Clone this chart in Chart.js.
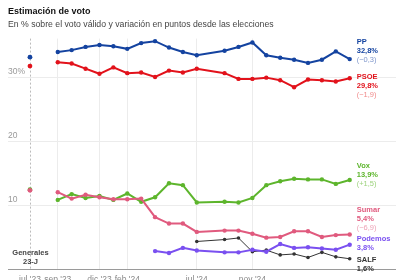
<!DOCTYPE html>
<html><head><meta charset="utf-8">
<script src="https://cdn.jsdelivr.net/npm/chart.js@4.4.1/dist/chart.umd.min.js"></script>
<style>
html,body{margin:0;padding:0;background:#fff;overflow:hidden;width:412px;height:280px;}
#wrap{position:absolute;left:0;top:0;width:412px;height:288px;}
.t{position:absolute;left:8px;font-family:"Liberation Sans",Arial,sans-serif;white-space:nowrap;}
#title{top:6px;font-size:9px;font-weight:bold;color:#111;}
#sub{top:19px;font-size:8.7px;color:#444;}
</style></head><body>
<div id="wrap"><canvas id="c"></canvas></div>
<div class="t" id="title">Estimación de voto</div>
<div class="t" id="sub">En % sobre el voto válido y variación en puntos desde las elecciones</div>
<script>
// month index 0 = jul '23 ... 23 = jun '25
const months = ["jul '23","ago '23","sep '23","oct '23","nov '23","dic '23","ene '24","feb '24","mar '24","abr '24","may '24","jun '24","jul '24","ago '24","sep '24","oct '24","nov '24","dic '24","ene '25","feb '25","mar '25","abr '25","may '25","jun '25"];
const xTickIdx = [0, 2, 5, 7, 12, 16];
const xTickLabels = ["jul '23","sep '23","dic '23","feb '24","jul '24","nov '24"];
const yTicks = [0, 10, 20, 30];
const yTickLabels = ["", "10", "20", "30%"];

const parties = ["PP", "PSOE", "Vox", "Sumar", "Podemos", "SALF"];
const election = [33.1, 31.7, 12.4, 12.3];
const pp      = [null,null,33.9,34.2,34.7,35.0,34.8,34.4,35.3,35.6,34.6,33.9,33.4,null,34.1,34.7,35.4,33.4,33.0,32.7,32.2,32.7,34.0,32.8];
const psoe    = [null,null,32.3,32.1,31.3,30.5,31.5,30.6,30.7,30.0,31.0,30.7,31.3,null,30.6,29.7,29.7,29.9,29.5,28.4,29.6,29.5,29.3,29.8];
const vox     = [null,null,10.8,11.7,11.1,11.4,10.8,11.8,10.5,11.2,13.4,13.1,10.4,null,10.5,10.4,11.1,13.1,13.7,14.1,14.0,14.0,13.3,13.9];
const sumar   = [null,null,12.0,11.0,11.6,11.2,10.9,10.9,11.0,8.1,7.1,7.1,5.8,null,6.0,6.0,5.5,4.9,5.0,5.9,5.9,5.0,5.3,5.4];
const podemos = [null,null,null,null,null,null,null,null,null,2.8,2.5,3.3,2.9,null,2.6,2.6,3.0,2.7,3.9,3.3,3.4,3.2,3.0,3.8];
const salf    = [null,null,null,null,null,null,null,null,null,null,null,null,4.3,null,4.6,4.85,2.7,2.95,2.2,2.35,1.8,2.6,1.9,1.6];
const lastPct = ["32,8%", "29,8%", "13,9%", "5,4%", "3,8%", "1,6%"];
const change  = ["(\u22120,3)", "(\u22121,9)", "(+1,5)", "(\u22126,9)", null, null];

const colors = {PP:"#1443a0", PSOE:"#e2121b", Vox:"#5db52c", Sumar:"#e05a7e", Podemos:"#7a50f0", SALF:"#333333"};
const light  = {PP:"#7e96cb", PSOE:"#f08a8a", Vox:"#9cd27c", Sumar:"#eea2b6"};
const labelDy = {PP:-17, PSOE:-1.5, Vox:-14, Sumar:-25, Podemos:-5.5, SALF:1.5};

const series = {PP:pp, PSOE:psoe, Vox:vox, Sumar:sumar, Podemos:podemos, SALF:salf};
function pts(arr){ const o=[]; arr.forEach((v,i)=>{ if(v!==null) o.push({x:i,y:v}); }); return o; }

const FONT = '"Liberation Sans", Arial, sans-serif';

const drawOrder = ["SALF","Podemos","Vox","Sumar","PSOE","PP"]; // later = on top
const datasets = [];
drawOrder.forEach((p, k) => {
  const thin = p === "SALF";
  datasets.push({
    label: p, data: pts(series[p]),
    borderColor: colors[p], backgroundColor: colors[p],
    borderWidth: thin ? 1 : 2, pointRadius: thin ? 1.8 : 2.2,
    pointBorderWidth: 0, pointHoverRadius: 0, tension: 0, order: 10 - k
  });
});
const elecParties = ["PP","PSOE","Vox","Sumar"];
datasets.push({
  label: "23-J", data: election.map((v)=>({x:0,y:v})), showLine:false,
  pointBackgroundColor: elecParties.map(p=>colors[p]), pointBorderWidth:0, pointRadius:2.4, order: 0
});

const annot = {
  id: 'annot',
  beforeDatasetsDraw(chart){
    const {ctx, chartArea:a, scales:{x, y}} = chart;
    const px = Math.round(x.getPixelForValue(0)) + 0.5;
    ctx.save();
    ctx.strokeStyle = '#bbb'; ctx.lineWidth = 1; ctx.setLineDash([2,2]);
    ctx.beginPath(); ctx.moveTo(px, a.top); ctx.lineTo(px, y.getPixelForValue(0)); ctx.stroke();
    ctx.setLineDash([]);
    ctx.fillStyle = '#444'; ctx.font = 'bold 7.5px ' + FONT; ctx.textAlign = 'center'; ctx.textBaseline = 'middle';
    ctx.fillText('Generales', px, 253);
    ctx.fillText('23-J', px, 262);
    ctx.restore();
  },
  afterDatasetsDraw(chart){
    const {ctx, scales:{x, y}} = chart;
    ctx.save();
    ctx.textAlign = 'left'; ctx.textBaseline = 'middle';
    parties.forEach((p, i) => {
      const arr = series[p];
      const li = arr.length - 1;
      const lx = x.getPixelForValue(li) + 7;
      const ly = y.getPixelForValue(arr[li]) + labelDy[p];
      ctx.fillStyle = colors[p];
      ctx.font = 'bold 7.5px ' + FONT;
      ctx.fillText(p, lx, ly);
      ctx.fillText(lastPct[i], lx, ly + 9);
      if (change[i]) {
        ctx.fillStyle = light[p];
        ctx.font = '7.5px ' + FONT;
        ctx.fillText(change[i], lx, ly + 18);
      }
    });
    ctx.restore();
  }
};

new Chart(document.getElementById('c'), {
  type: 'line',
  data: { datasets },
  options: {
    responsive: true, maintainAspectRatio: false, animation: false,
    layout: { padding: { left: 8, right: 16, top: 38.6, bottom: 3 } },
    plugins: { legend: {display:false}, tooltip: {enabled:false} },
    scales: {
      x: {
        type: 'linear', min: -1.58, max: 26.33,
        afterBuildTicks(s){ s.ticks = xTickIdx.map(v=>({value:v})); },
        afterFit(s){ s.height = 16; },
        grid: { drawTicks:false, lineWidth:1,
          color: (c) => (c.tick && c.tick.value === 0) ? 'rgba(0,0,0,0)' : '#ececec' },
        border: { display:false },
        ticks: { padding: 6, color:'#888', font:{family:FONT, size:8.5}, maxRotation:0, autoSkip:false,
          callback: (v) => { const k = xTickIdx.indexOf(v); return k >= 0 ? xTickLabels[k] : ''; } }
      },
      y: {
        min: 0, max: 36,
        afterBuildTicks(s){ s.ticks = yTicks.map(v=>({value:v})); },
        afterFit(s){ s.width = 0; },
        grid: { drawTicks:false, lineWidth:1,
          color: (c) => (c.tick && c.tick.value === 0) ? '#9a9a9a' : '#ececec' },
        border: { display:false },
        ticks: { mirror:true, padding:0, labelOffset:-5, color:'#999', font:{family:FONT, size:8.5},
          callback: (v) => { const k = yTicks.indexOf(v); return k >= 0 ? yTickLabels[k] : ''; } }
      }
    }
  },
  plugins: [annot]
});
</script>
</body></html>
